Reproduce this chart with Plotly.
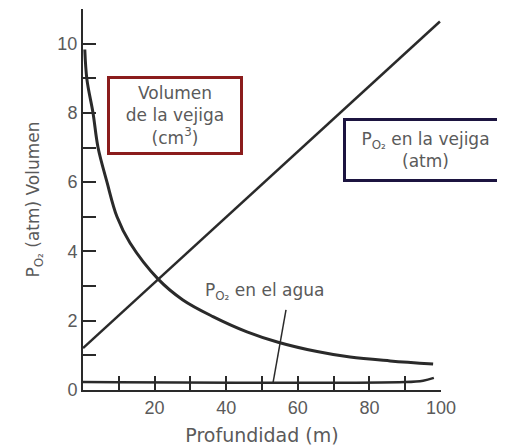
import plotly.graph_objects as go

# Volumen de la vejiga (cm3) vs profundidad (m)
depth_vol = [0.5, 1.1, 2.8, 4.2, 6.7, 9.5, 13.1, 21.0, 27.9, 36.3, 45.8, 54.5, 65.4, 74.6, 85.8, 97.8]
volumen = [9.83, 8.96, 8.0, 7.0, 6.0, 5.0, 4.25, 3.2, 2.6, 2.12, 1.68, 1.38, 1.11, 0.95, 0.84, 0.75]

# PO2 en la vejiga (atm)
depth_vej = [0, 99.7]
po2_vejiga = [1.21, 10.64]

# PO2 en el agua
depth_agua = [0, 90, 95, 98]
po2_agua = [0.23, 0.23, 0.27, 0.35]

y_ticks = list(range(0, 12))
y_labels = [str(v) if v % 2 == 0 and v <= 10 else "" for v in y_ticks]
x_ticks = list(range(10, 101, 10))
x_labels = [str(v) if v % 20 == 0 else "" for v in x_ticks]

FONT = "DejaVu Sans, Arial, sans-serif"
TICKFONT = "Liberation Sans, Arial, sans-serif"
TXT = "#5a5a5a"
LINE = "#2a2a2a"

fig = go.Figure()
fig.add_trace(go.Scatter(x=depth_vol, y=volumen, mode="lines",
                         line=dict(color=LINE, width=3, shape="spline", smoothing=1),
                         showlegend=False, hoverinfo="skip"))
fig.add_trace(go.Scatter(x=depth_vej, y=po2_vejiga, mode="lines",
                         line=dict(color=LINE, width=2.5),
                         showlegend=False, hoverinfo="skip"))
fig.add_trace(go.Scatter(x=depth_agua, y=po2_agua, mode="lines",
                         line=dict(color=LINE, width=2.5, shape="spline"),
                         showlegend=False, hoverinfo="skip"))

# leader line for "PO2 en el agua"
fig.add_shape(type="line", x0=56.7, y0=2.31, x1=53.1, y1=0.22,
              line=dict(color=LINE, width=1.5))

fig.add_annotation(x=50.8, y=2.83, text="P<sub>O₂</sub> en el agua", showarrow=False,
                   font=dict(family=FONT, size=17, color=TXT))
fig.add_annotation(x=25.7, y=7.92, text="Volumen<br>de la vejiga<br>(cm<sup>3</sup>)",
                   showarrow=False, font=dict(family=FONT, size=17, color=TXT),
                   bordercolor="#8b1c1c", borderwidth=3, borderpad=0,
                   width=130, height=73, align="center", bgcolor="white")
fig.add_annotation(x=95.8, y=6.94, text="P<sub>O₂</sub> en la vejiga<br>(atm)",
                   showarrow=False, font=dict(family=FONT, size=17, color=TXT),
                   bordercolor="#1c1440", borderwidth=3, borderpad=0,
                   width=159, height=58, align="center", bgcolor="white")

fig.update_layout(
    width=505, height=446,
    margin=dict(l=75, r=72, t=1, b=64),
    paper_bgcolor="white", plot_bgcolor="white",
    font=dict(family=FONT, size=17, color=TXT),
    xaxis=dict(range=[0, 100], tickvals=x_ticks, ticktext=x_labels,
               ticks="inside", ticklen=14, tickwidth=1.5, tickcolor=LINE,
               showline=True, linewidth=2, linecolor=LINE,
               showgrid=False, zeroline=False,
               title=dict(text="Profundidad (m)", standoff=12,
                          font=dict(family=FONT, size=19, color=TXT)),
               tickfont=dict(family=TICKFONT, size=18, color=TXT)),
    yaxis=dict(range=[0, 11], tickvals=y_ticks, ticktext=y_labels,
               ticks="inside", ticklen=13, tickwidth=2, tickcolor=LINE,
               showline=True, linewidth=2, linecolor=LINE,
               showgrid=False, zeroline=False,
               title=dict(text="P<sub>O₂</sub> (atm) Volumen", standoff=13,
                          font=dict(family=FONT, size=17, color=TXT)),
               tickfont=dict(family=TICKFONT, size=18, color=TXT)),
)

fig.write_html("out.html")
